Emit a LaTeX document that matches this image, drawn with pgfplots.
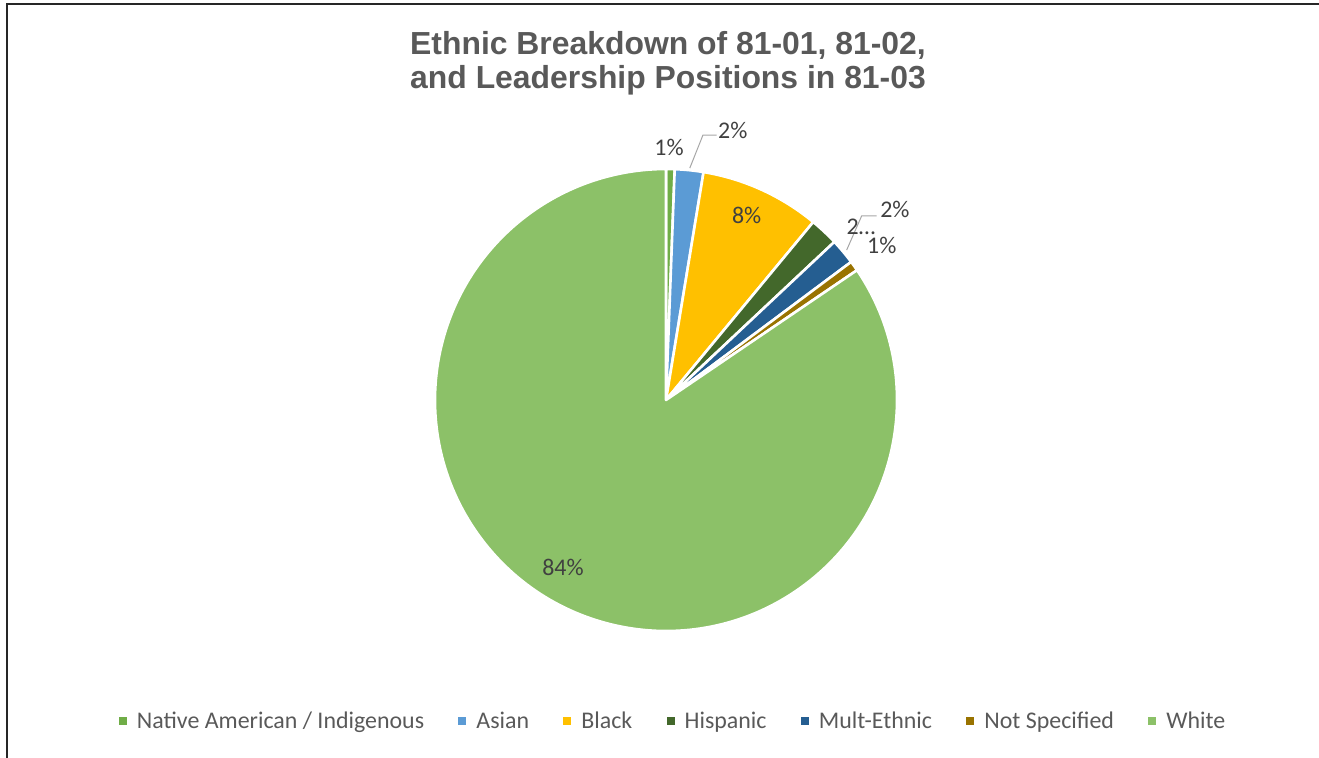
\documentclass[border=0pt]{standalone}
\usepackage{pgfplots}
\pgfplotsset{compat=1.18}
\usepackage{pgfplotstable}
\usepackage{fontspec}
\setmainfont{Carlito}
\newfontfamily\titlefont{Liberation Sans}

\definecolor{pie0}{HTML}{70AD47}
\definecolor{pie1}{HTML}{5B9BD5}
\definecolor{pie2}{HTML}{FFC000}
\definecolor{pie3}{HTML}{43682B}
\definecolor{pie4}{HTML}{255E91}
\definecolor{pie5}{HTML}{997300}
\definecolor{pie6}{HTML}{8CC168}
\definecolor{titlegray}{HTML}{595959}
\definecolor{labelgray}{HTML}{404040}
\definecolor{leadergray}{HTML}{A6A6A6}

\pgfplotstableread[col sep=comma]{
name,value
Native American / Indigenous,0.6
Asian,2.0
Black,8.4
Hispanic,2.0
Mult-Ethnic,1.8
Not Specified,0.7
White,84.5
}\piedata

% cumulative start / end angles (clockwise from the top)
\gdef\cum{0}
\pgfplotsforeachungrouped \i in {0,...,6}{%
  \pgfplotstablegetelem{\i}{value}\of\piedata
  \pgfmathsetmacro\a{90-3.6*\cum}%
  \pgfmathsetmacro\cumnew{\cum+\pgfplotsretval}%
  \pgfmathsetmacro\b{90-3.6*\cumnew}%
  \expandafter\xdef\csname pieA\i\endcsname{\a}%
  \expandafter\xdef\csname pieB\i\endcsname{\b}%
  \xdef\cum{\cumnew}%
}

\begin{document}
\begin{tikzpicture}
\path[use as bounding box] (0,0) rectangle (1319bp,-758bp);
\draw[line width=1.6bp, black!85] (7bp,-758bp) -- (7bp,-4bp) -- (1319bp,-4bp);

\node[font=\titlefont\bfseries\fontsize{32}{34}\selectfont, text=titlegray,
      align=center, anchor=base] at (668bp,-88bp)
  {Ethnic Breakdown of 81-01, 81-02,\\and Leadership Positions in 81-03};

\begin{axis}[
  hide axis, clip=false,
  x=231bp, y=231bp,
  xmin=-1, xmax=1, ymin=-1, ymax=1,
  at={(666bp,-400bp)}, anchor=origin,
  legend columns=7,
  legend image code/.code={\fill[draw=none] (0bp,-4bp) rectangle (8bp,4bp);},
  legend style={draw=none, fill=none, inner sep=0pt, outer sep=0pt,
    font=\fontsize{24}{28}\selectfont, text=titlegray,
    at={(axis cs:-2.368,-1.39)}, anchor=west,
    nodes={inner sep=0pt},
    /tikz/every odd column/.append style={column sep=10bp},
    /tikz/every even column/.append style={column sep=34.3bp}},
]
\pgfplotsinvokeforeach{0,...,6}{
  \addplot[fill=pie#1, draw=white, line width=2.6bp, line join=round]
    coordinates {(0,0)}
    -- ++(\csname pieA#1\endcsname:231bp)
    arc[start angle=\csname pieA#1\endcsname, end angle=\csname pieB#1\endcsname, radius=231bp]
    -- cycle;
  \pgfplotstablegetelem{#1}{name}\of\piedata
  \addlegendentryexpanded{\pgfplotsretval}
}
% leader lines
\draw[leadergray, line width=1bp] (axis cs:0.103,1.004) -- (axis cs:0.160,1.147) -- (axis cs:0.219,1.147);
\draw[leadergray, line width=1bp] (axis cs:0.782,0.649) -- (axis cs:0.847,0.797) -- (axis cs:0.912,0.797);
% data labels
\begin{scope}[every node/.style={font=\fontsize{24}{28}\selectfont, text=labelgray, inner sep=0pt}]
\node at (axis cs:0.013,1.095) {1\%};
\node at (axis cs:0.289,1.166) {2\%};
\node at (axis cs:0.349,0.797) {8\%};
\node at (axis cs:0.844,0.749) {2…};
\node at (axis cs:0.991,0.826) {2\%};
\node at (axis cs:0.934,0.671) {1\%};
\node at (axis cs:-0.446,-0.723) {84\%};
\end{scope}
\end{axis}
\end{tikzpicture}
\end{document}
